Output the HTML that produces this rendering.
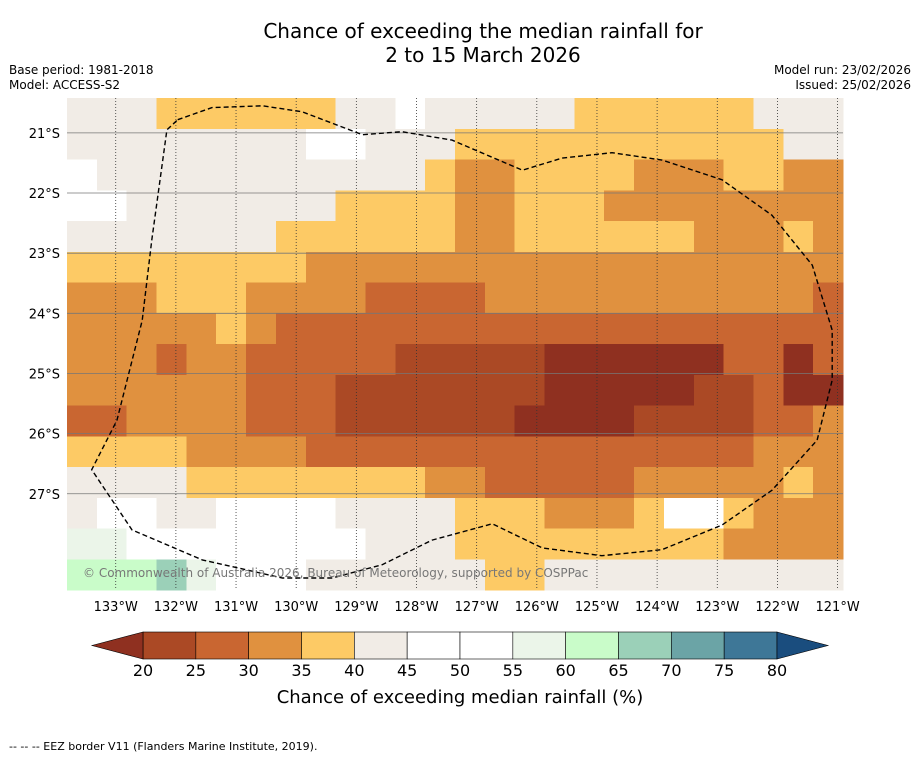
<!DOCTYPE html>
<html><head><meta charset="utf-8">
<style>
body{margin:0;background:#fff;font-family:"DejaVu Sans","Liberation Sans",sans-serif;}
#wrap{position:relative;width:919px;height:758px;overflow:hidden;background:#fff;}
.t{position:absolute;font-size:12px;color:#000;white-space:nowrap;}
svg text{font-family:"DejaVu Sans","Liberation Sans",sans-serif;}
</style></head>
<body>
<div id="wrap">
<div class="t" style="left:0;width:966px;top:19px;text-align:center;font-size:20px;line-height:24px;">Chance of exceeding the median rainfall for<br>2 to 15 March 2026</div>
<div class="t" style="left:9px;top:63px;">Base period: 1981-2018</div>
<div class="t" style="left:9px;top:78px;">Model: ACCESS-S2</div>
<div class="t" style="right:8px;top:63px;text-align:right;">Model run: 23/02/2026</div>
<div class="t" style="right:8px;top:78px;text-align:right;">Issued: 25/02/2026</div>
<div class="t" style="left:9px;top:740px;font-size:11px;">--  --  -- EEZ border V11 (Flanders Marine Institute, 2019).</div>
<svg id="svg" width="919" height="758" style="position:absolute;left:0;top:0"></svg>
</div>
<script>
const lonMin=-133.81, lonMax=-120.91, latTop=-20.42, latBot=-28.6;
const lonTicks=[-133,-132,-131,-130,-129,-128,-127,-126,-125,-124,-123,-122,-121];
const latTicks=[-21,-22,-23,-24,-25,-26,-27];
const codeVals={Z:17,A:22,B:27,C:32,D:37,E:42,W:50,G:57,H:62,I:67};
const gridRows=[
"EEEDDDDDDEEWEEEEEDDDDDDEEE",
"EEEEEEEEWWEEEDDDDDDDDDDDEE",
"WEEEEEEEEEEEDCCDDDDCCCDDCC",
"WWEEEEEEEDDDDCCDDDCCCCCCCC",
"EEEEEEEDDDDDDCCDDDDDDCCCDC",
"DDDDDDDDCCCCCCCCCCCCCCCCCC",
"CCCDDDCCCCBBBBCCCCCCCCCCCB",
"CCCCCDCBBBBBBBBBBBBBBBBBBB",
"CCCBCCBBBBBAAAAAZZZZZZBBZB",
"CCCCCCBBBAAAAAAAZZZZZAABZZ",
"BBCCCCBBBAAAAAAZZZZAAAABBC",
"DDDDCCCCBBBBBBBBBBBBBBBCCC",
"EEEEDDDDDDDDCCBBBBBCCCCCDC",
"EWWEEWWWWEEEEDDDCCCDWWDCCC",
"GGWWWWWWWWEEEDDDDDDDDDCCCC",
"HHHIGWWWEEEEEEDDEEEEEEEEEE"];
const cbBounds=[20,25,30,35,40,45,50,55,60,65,70,75,80];
const cbColors=["#ab4925","#c96631","#e0913f","#fdca65","#f1ece6","#ffffff","#ffffff","#ebf5e9","#c9fcc9","#9bd0b8","#6ba4a6","#3e7797"];
const eezLon=[-131.97,-131.4,-130.56,-129.9,-128.9,-128.24,-127.41,-126.24,-125.58,-124.75,-123.92,-122.92,-122.09,-121.42,-121.09,-121.09,-121.34,-122.09,-122.92,-123.92,-124.92,-125.91,-126.74,-127.74,-128.57,-129.4,-130.23,-131.56,-132.73,-133.4,-132.98,-132.56,-132.4,-132.15];
const eezLat=[-20.78,-20.58,-20.55,-20.65,-21.03,-20.98,-21.12,-21.62,-21.42,-21.33,-21.45,-21.78,-22.37,-23.2,-24.28,-25.11,-26.11,-26.94,-27.52,-27.93,-28.03,-27.9,-27.5,-27.77,-28.18,-28.4,-28.4,-28.1,-27.6,-26.6,-25.78,-24.12,-22.78,-20.95];
function cmap(v){if(v<20)return "#8f3020";if(v>=80)return "#1a4d7e";for(let i=0;i<cbColors.length;i++)if(v<cbBounds[i+1])return cbColors[i];}
const X0=67,X1=843,Y0=98,Y1=590;
const xs=lon=>X0+(lon-lonMin)/(lonMax-lonMin)*(X1-X0);
const ys=lat=>Y0+(latTop-lat)/(latTop-latBot)*(Y1-Y0);
const NS="http://www.w3.org/2000/svg";
const svg=document.getElementById('svg');
function mk(t,a,p){const e=document.createElementNS(NS,t);for(const k in a)e.setAttribute(k,a[k]);(p||svg).appendChild(e);return e;}
const nR=gridRows.length,nC=gridRows[0].length;
const dLon=(lonMax-lonMin)/nC,dLat=(latTop-latBot)/nR;
const gMap=mk('g',{'shape-rendering':'crispEdges'});


for(let r=0;r<nR;r++)for(let c=0;c<nC;c++){
 const v=codeVals[gridRows[r][c]];
 const x=xs(lonMin+c*dLon),x2=xs(lonMin+(c+1)*dLon),y=ys(latTop-r*dLat),y2=ys(latTop-(r+1)*dLat);
 const rc=mk('rect',{x:x,y:y,width:x2-x+0.5,height:y2-y+0.5,fill:cmap(v)},gMap);
 
 
}
latTicks.forEach(l=>{const y=ys(l);
 const ln=mk('line',{x1:X0,x2:X1,y1:y,y2:y,stroke:'#777','stroke-width':0.8});
 
 const t=mk('text',{x:60,y:y+5,'text-anchor':'end','font-size':13});t.textContent=(-l)+'°S';
 });
lonTicks.forEach(l=>{const x=xs(l);
 const ln=mk('line',{x1:x,x2:x,y1:Y0,y2:Y1,stroke:'#333','stroke-width':0.8,'stroke-dasharray':'1,2'});
 
 const t=mk('text',{x:x,y:611,'text-anchor':'middle','font-size':13});t.textContent=(-l)+'°W';
 });
let d='';eezLon.forEach((lo,i)=>{d+=(i?'L':'M')+xs(lo).toFixed(1)+','+ys(eezLat[i]).toFixed(1);});d+='Z';
const eez=mk('path',{d:d,fill:'none',stroke:'#000','stroke-width':1.4,'stroke-dasharray':'5,3'});

const cp=mk('text',{x:83,y:577,'font-size':12,fill:'#777'});cp.textContent='© Commonwealth of Australia 2026, Bureau of Meteorology, supported by COSPPac';

const cx=v=>143+(v-20)/60*(777-143);const CY0=632,CY1=659;
const gcb=mk('g',{});
for(let i=0;i<cbColors.length;i++){const r=mk('rect',{x:cx(cbBounds[i]),y:CY0,width:cx(cbBounds[i+1])-cx(cbBounds[i]),height:CY1-CY0,fill:cbColors[i],stroke:'#000','stroke-width':0.6},gcb);
 }
const tl=mk('polygon',{points:`${cx(20)},${CY0} 92,${(CY0+CY1)/2} ${cx(20)},${CY1}`,fill:'#8f3020',stroke:'#000','stroke-width':0.6},gcb);

const tr=mk('polygon',{points:`${cx(80)},${CY0} 828,${(CY0+CY1)/2} ${cx(80)},${CY1}`,fill:'#1a4d7e',stroke:'#000','stroke-width':0.6},gcb);

cbBounds.forEach(b=>{const t=mk('text',{x:cx(b),y:676,'text-anchor':'middle','font-size':16},gcb);t.textContent=b;
 });
const ct=mk('text',{x:460,y:703,'text-anchor':'middle','font-size':18});ct.textContent='Chance of exceeding median rainfall (%)';

</script>
</body></html>
